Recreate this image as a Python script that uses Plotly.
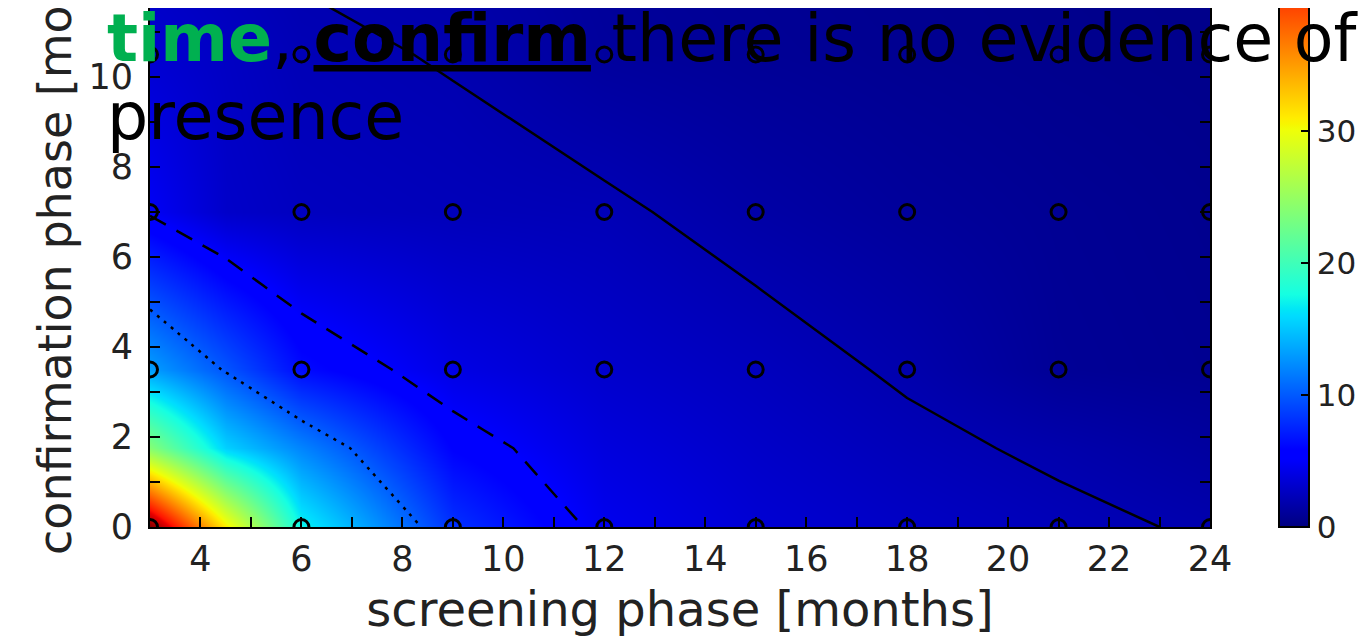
import plotly.graph_objects as go

# ---------------- data ----------------
screening_months = [3, 4.5, 6, 9, 12, 15, 18, 21, 24]
confirmation_months = [0, 1.75, 3.5, 7, 10.5, 14]
# estimated colour values (rows = confirmation_months, cols = screening_months)
values = [
    [47.0, 31.0, 17.2, 8.1, 4.5, 3.4, 2.8, 2.3, 1.85],
    [24.0, 15.5, 12.0, 5.8, 3.8, 2.95, 2.3, 1.79, 1.25],
    [13.2, 9.8, 6.33, 4.1, 3.1, 2.51, 1.83, 0.9, 0.7],
    [4.8, 3.0, 2.6, 2.35, 2.21, 1.55, 1.1, 0.8, 0.6],
    [3.3, 2.75, 2.2, 1.93, 1.16, 0.9, 0.7, 0.55, 0.45],
    [2.4, 2.05, 1.7, 1.4, 0.9, 0.7, 0.55, 0.45, 0.4],
]
# simulated design points (circles)
sim_screening = [3, 6, 9, 12, 15, 18, 21, 24]
sim_confirmation = [0, 3.5, 7, 10.5, 14]
# contour levels and their line styles
contour_levels = [10, 5, 2]
contour_dashes = ["3px,6px", "18px,12px", "solid"]

x_tick_vals = list(range(3, 25))
x_tick_labels = [str(v) if v % 2 == 0 else "" for v in x_tick_vals]
y_tick_vals = list(range(0, 12))
y_tick_labels = [str(v) if v % 2 == 0 else "" for v in y_tick_vals]
cbar_tick_vals = [0, 10, 20, 30, 40]

x_title = "screening phase [months]"
y_title = "confirmation phase [months]"
headline_1 = ("<span style='color:#00b050'><b>time</b></span>, "
              "<b><span style='text-decoration:underline'>confirm</span></b>"
              " there is no evidence of")
headline_2 = "presence"

# ---------------- matplotlib "jet" colour scale ----------------
_red = [(0, 0), (0.35, 0), (0.66, 1), (0.89, 1), (1, 0.5)]
_green = [(0, 0), (0.125, 0), (0.375, 1), (0.64, 1), (0.91, 0), (1, 0)]
_blue = [(0, 0.5), (0.11, 1), (0.34, 1), (0.65, 0), (1, 0)]


def _interp(pts, t):
    for (t0, v0), (t1, v1) in zip(pts[:-1], pts[1:]):
        if t0 <= t <= t1:
            return v0 + (v1 - v0) * (t - t0) / (t1 - t0)
    return pts[-1][1]


stops = sorted({p[0] for p in _red + _green + _blue})
jet = [[t, "rgb(%d,%d,%d)" % (round(255 * _interp(_red, t)),
                              round(255 * _interp(_green, t)),
                              round(255 * _interp(_blue, t)))] for t in stops]

# ---------------- geometry (figure pixels; page adds an 8px body margin) ----------------
W, H = 1372, 642
OFF = 8
L, R, T, B = 150 - OFF, 1210 - OFF, 0, 527 - OFF
pw, ph = R - L, B - T
PX_PER_Y = 45.0


def px_x(p):
    return (p - OFF - L) / pw


def px_y(p):
    return (B - (p - OFF)) / ph


fig = go.Figure()

fig.add_trace(go.Heatmap(
    x=screening_months, y=confirmation_months, z=values,
    zmin=0, zmax=max(max(r) for r in values), zsmooth="best",
    colorscale=jet, hoverinfo="skip",
    colorbar=dict(
        thickness=30, thicknessmode="pixels",
        len=620, lenmode="pixels",
        x=px_x(1279), xanchor="left", xpad=0,
        y=0, yanchor="bottom", ypad=0,
        outlinewidth=2, outlinecolor="black",
        ticks="inside", ticklen=9, tickwidth=1.5, tickcolor="black",
        tickvals=cbar_tick_vals,
        tickfont=dict(family="DejaVu Sans", size=31, color="#222"),
    ),
))

for lev, dash in zip(contour_levels, contour_dashes):
    fig.add_trace(go.Contour(
        x=screening_months, y=confirmation_months, z=values,
        autocontour=False,
        contours=dict(start=lev, end=lev, size=1, coloring="none"),
        line=dict(color="black", width=2.5, dash=dash, smoothing=0),
        showscale=False, hoverinfo="skip",
    ))

mx, my = [], []
for yy in sim_confirmation:
    for xx in sim_screening:
        mx.append(xx)
        my.append(yy)
fig.add_trace(go.Scatter(
    x=mx, y=my, mode="markers",
    marker=dict(symbol="circle-open", size=15, color="black",
                line=dict(width=3, color="black")),
    hoverinfo="skip", showlegend=False,
))

axis_font = dict(family="DejaVu Sans", size=35, color="#222")
fig.update_layout(
    width=W, height=H,
    margin=dict(l=L, r=W - R, t=T, b=H - B, autoexpand=False),
    paper_bgcolor="white", plot_bgcolor="white",
    showlegend=False,
    font=dict(family="DejaVu Sans"),
    xaxis=dict(
        range=[3, 24], tickmode="array", tickvals=x_tick_vals,
        ticktext=x_tick_labels, ticks="inside", ticklen=10, tickwidth=1.5,
        tickcolor="black", showline=True, linecolor="black", linewidth=2,
        showgrid=False, zeroline=False, tickfont=axis_font,
        title=dict(text=x_title, font=dict(family="DejaVu Sans", size=48, color="#222"),
                   standoff=14),
        automargin=False,
    ),
    yaxis=dict(
        range=[0, ph / PX_PER_Y], tickmode="array", tickvals=y_tick_vals,
        ticktext=y_tick_labels, ticks="inside", ticklen=10, tickwidth=1.5,
        tickcolor="black", showline=True, linecolor="black", linewidth=2,
        mirror="ticks", showgrid=False, zeroline=False, tickfont=axis_font,
        ticklabelstandoff=8, automargin=False,
    ),
    annotations=[
        dict(text=y_title, textangle=-90, xref="paper", yref="paper",
             x=px_x(55), y=px_y(221), xanchor="center", yanchor="middle",
             showarrow=False, font=dict(family="DejaVu Sans", size=46, color="#222")),
        dict(text=headline_1, xref="paper", yref="paper",
             x=px_x(105), y=px_y(39), xanchor="left", yanchor="middle",
             showarrow=False, font=dict(family="DejaVu Sans", size=65, color="black")),
        dict(text=headline_2, xref="paper", yref="paper",
             x=px_x(105), y=px_y(116), xanchor="left", yanchor="middle",
             showarrow=False, font=dict(family="DejaVu Sans", size=65, color="black")),
    ],
)

fig.write_html("out.html")
